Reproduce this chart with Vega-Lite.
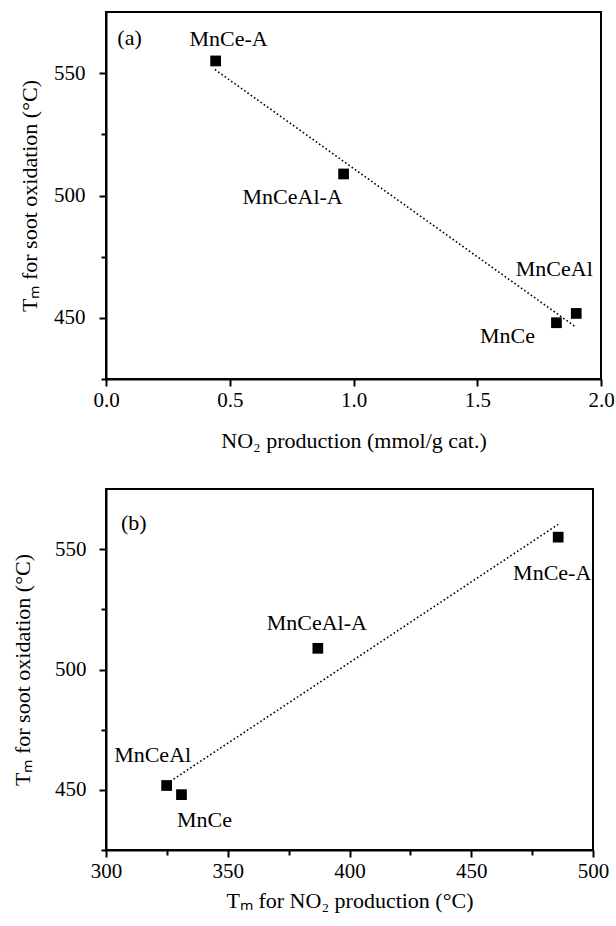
{
  "$schema": "https://vega.github.io/schema/vega-lite/v6.json",
  "background": "white",
  "padding": {"left": 10, "top": 11, "right": 5, "bottom": 5},
  "config": {
    "font": "'Liberation Serif', 'Times New Roman', serif",
    "view": {"stroke": "black", "strokeWidth": 2},
    "axis": {
      "grid": false,
      "domainColor": "black",
      "domainWidth": 2,
      "tickColor": "black",
      "tickWidth": 2,
      "labelFont": "'Liberation Serif', 'Times New Roman', serif",
      "labelFontSize": 21,
      "labelColor": "black",
      "titleFont": "'Liberation Serif', 'Times New Roman', serif",
      "titleFontSize": 22,
      "titleFontWeight": "normal",
      "titleColor": "black",
      "labelOverlap": false,
      "labelFlush": false
    },
    "text": {"font": "'Liberation Serif', 'Times New Roman', serif", "fontSize": 22, "color": "black"}
  },
  "datasets": {
    "pts": [
      {"sample": "MnCe-A", "no2": 0.443, "tm_no2": 485.7, "tm_soot": 555.0},
      {"sample": "MnCeAl-A", "no2": 0.960, "tm_no2": 387.0, "tm_soot": 508.8},
      {"sample": "MnCeAl", "no2": 1.900, "tm_no2": 324.9, "tm_soot": 451.8},
      {"sample": "MnCe", "no2": 1.820, "tm_no2": 331.0, "tm_soot": 448.0}
    ],
    "fitA": [
      {"no2": 0.44, "tm_soot": 551.5},
      {"no2": 1.90, "tm_soot": 446.1}
    ],
    "fitB": [
      {"tm_no2": 325.0, "tm_soot": 452.6},
      {"tm_no2": 485.7, "tm_soot": 560.3}
    ]
  },
  "bounds": "flush",
  "spacing": 110,
  "vconcat": [
    {
      "width": 495,
      "height": 367,
      "layer": [
        {
          "data": {"name": "fitA"},
          "mark": {"type": "line", "color": "black", "strokeWidth": 1.6, "strokeDash": [1.6, 2.4]},
          "encoding": {
            "x": {"field": "no2", "type": "quantitative",
              "scale": {"domain": [0, 2], "nice": false, "zero": false},
              "axis": {"title": "NO₂ production (mmol/g cat.)", "values": [0, 0.5, 1, 1.5, 2], "format": ".1f",
                "tickSize": 7, "labelPadding": 3, "titlePadding": 20}},
            "y": {"field": "tm_soot", "type": "quantitative",
              "scale": {"domain": [425, 575], "nice": false, "zero": false},
              "axis": {"title": "Tₘ for soot oxidation (°C)", "values": [425, 450, 475, 500, 525, 550],
                "labelExpr": "datum.value % 50 == 0 ? datum.label : ''",
                "tickSize": {"condition": {"test": "datum.value % 50 != 0", "value": 5}, "value": 7},
                "labelPadding": 14, "titlePadding": 12}}
          }
        },
        {
          "data": {"name": "pts"},
          "mark": {"type": "point", "shape": "square", "filled": true, "size": 115, "color": "black", "opacity": 1},
          "encoding": {
            "x": {"field": "no2", "type": "quantitative"},
            "y": {"field": "tm_soot", "type": "quantitative"}
          }
        },
        {
          "data": {"name": "pts"},
          "transform": [{"filter": "datum.sample == 'MnCe-A'"}],
          "mark": {"type": "text", "dx": 13, "dy": -22},
          "encoding": {"x": {"field": "no2", "type": "quantitative"}, "y": {"field": "tm_soot", "type": "quantitative"}, "text": {"field": "sample"}}
        },
        {
          "data": {"name": "pts"},
          "transform": [{"filter": "datum.sample == 'MnCeAl-A'"}],
          "mark": {"type": "text", "dx": -51, "dy": 23},
          "encoding": {"x": {"field": "no2", "type": "quantitative"}, "y": {"field": "tm_soot", "type": "quantitative"}, "text": {"field": "sample"}}
        },
        {
          "data": {"name": "pts"},
          "transform": [{"filter": "datum.sample == 'MnCeAl'"}],
          "mark": {"type": "text", "dx": -22, "dy": -44},
          "encoding": {"x": {"field": "no2", "type": "quantitative"}, "y": {"field": "tm_soot", "type": "quantitative"}, "text": {"field": "sample"}}
        },
        {
          "data": {"name": "pts"},
          "transform": [{"filter": "datum.sample == 'MnCe'"}],
          "mark": {"type": "text", "dx": -49, "dy": 13},
          "encoding": {"x": {"field": "no2", "type": "quantitative"}, "y": {"field": "tm_soot", "type": "quantitative"}, "text": {"field": "sample"}}
        },
        {
          "data": {"values": [{"panel": "(a)"}]},
          "mark": {"type": "text"},
          "encoding": {"x": {"datum": 0.095, "type": "quantitative"}, "y": {"datum": 564.5, "type": "quantitative"}, "text": {"field": "panel"}}
        }
      ]
    },
    {
      "width": 487,
      "height": 361,
      "layer": [
        {
          "data": {"name": "fitB"},
          "mark": {"type": "line", "color": "black", "strokeWidth": 1.6, "strokeDash": [1.6, 2.4]},
          "encoding": {
            "x": {"field": "tm_no2", "type": "quantitative",
              "scale": {"domain": [300, 500], "nice": false, "zero": false},
              "axis": {"title": "Tₘ for NO₂ production (°C)", "values": [300, 325, 350, 375, 400, 425, 450, 475, 500],
                "labelExpr": "datum.value % 50 == 0 ? datum.label : ''",
                "tickSize": {"condition": {"test": "datum.value % 50 != 0", "value": 5}, "value": 7},
                "labelPadding": 3, "titlePadding": 9}},
            "y": {"field": "tm_soot", "type": "quantitative",
              "scale": {"domain": [425, 575], "nice": false, "zero": false},
              "axis": {"title": "Tₘ for soot oxidation (°C)", "values": [425, 450, 475, 500, 525, 550],
                "labelExpr": "datum.value % 50 == 0 ? datum.label : ''",
                "tickSize": {"condition": {"test": "datum.value % 50 != 0", "value": 5}, "value": 7},
                "labelPadding": 13, "titlePadding": 20}}
          }
        },
        {
          "data": {"name": "pts"},
          "mark": {"type": "point", "shape": "square", "filled": true, "size": 115, "color": "black", "opacity": 1},
          "encoding": {
            "x": {"field": "tm_no2", "type": "quantitative"},
            "y": {"field": "tm_soot", "type": "quantitative"}
          }
        },
        {
          "data": {"name": "pts"},
          "transform": [{"filter": "datum.sample == 'MnCe-A'"}],
          "mark": {"type": "text", "dx": -6, "dy": 36},
          "encoding": {"x": {"field": "tm_no2", "type": "quantitative"}, "y": {"field": "tm_soot", "type": "quantitative"}, "text": {"field": "sample"}}
        },
        {
          "data": {"name": "pts"},
          "transform": [{"filter": "datum.sample == 'MnCeAl-A'"}],
          "mark": {"type": "text", "dx": -1, "dy": -25},
          "encoding": {"x": {"field": "tm_no2", "type": "quantitative"}, "y": {"field": "tm_soot", "type": "quantitative"}, "text": {"field": "sample"}}
        },
        {
          "data": {"name": "pts"},
          "transform": [{"filter": "datum.sample == 'MnCeAl'"}],
          "mark": {"type": "text", "dx": -14, "dy": -31},
          "encoding": {"x": {"field": "tm_no2", "type": "quantitative"}, "y": {"field": "tm_soot", "type": "quantitative"}, "text": {"field": "sample"}}
        },
        {
          "data": {"name": "pts"},
          "transform": [{"filter": "datum.sample == 'MnCe'"}],
          "mark": {"type": "text", "dx": 23, "dy": 25},
          "encoding": {"x": {"field": "tm_no2", "type": "quantitative"}, "y": {"field": "tm_soot", "type": "quantitative"}, "text": {"field": "sample"}}
        },
        {
          "data": {"values": [{"panel": "(b)"}]},
          "mark": {"type": "text"},
          "encoding": {"x": {"datum": 311.4, "type": "quantitative"}, "y": {"datum": 560.8, "type": "quantitative"}, "text": {"field": "panel"}}
        }
      ]
    }
  ]
}
